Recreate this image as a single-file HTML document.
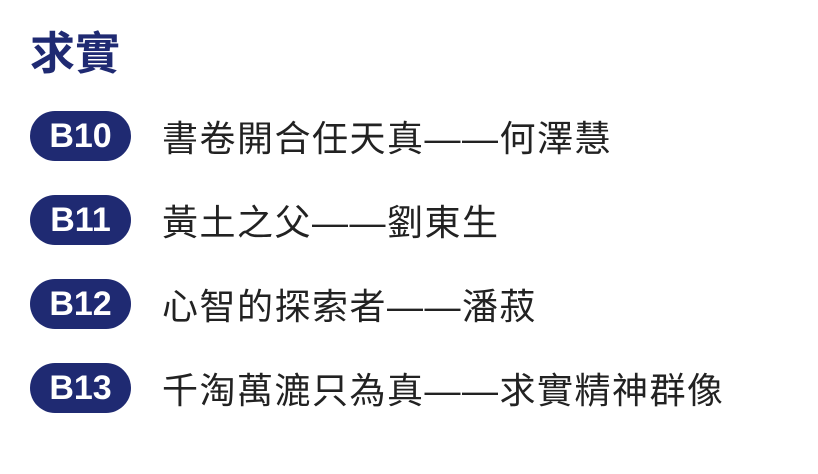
<!DOCTYPE html>
<html><head><meta charset="utf-8"><style>
body{margin:0;width:818px;height:474px;background:#fff;position:relative;overflow:hidden;font-family:"Liberation Sans","Noto Sans CJK TC",sans-serif}
.t{position:absolute;left:30px;top:26px;font-size:45px;font-weight:bold;color:#1f2a72;line-height:56px}
.row{position:absolute;left:30px;height:50px;display:flex;align-items:center}
.p{width:101px;height:50px;border-radius:25px;background:#1f2a72;color:#fff;font-size:34px;font-weight:bold;display:flex;align-items:center;justify-content:center}
.x{margin-left:31px;font-size:36px;color:#222;white-space:nowrap;letter-spacing:1.5px}
</style></head><body>
<div class="t">求實</div>
<div class="row" style="top:111px"><div class="p">B10</div><div class="x">書卷開合任天真——何澤慧</div></div>
<div class="row" style="top:195px"><div class="p">B11</div><div class="x">黃土之父——劉東生</div></div>
<div class="row" style="top:279px"><div class="p">B12</div><div class="x">心智的探索者——潘菽</div></div>
<div class="row" style="top:363px"><div class="p">B13</div><div class="x">千淘萬漉只為真——求實精神群像</div></div>
</body></html>
